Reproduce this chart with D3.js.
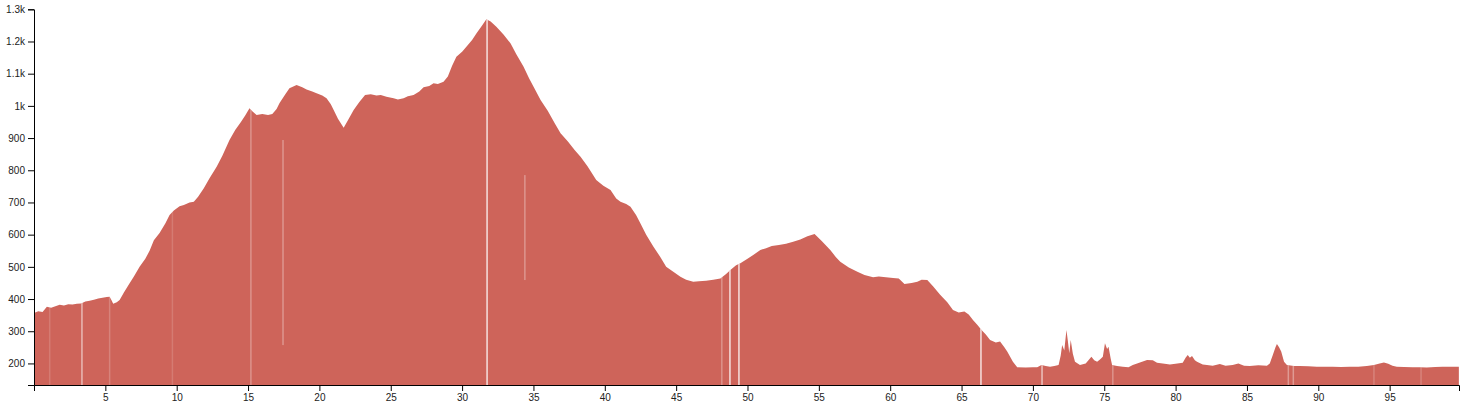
<!DOCTYPE html>
<html>
<head>
<meta charset="utf-8">
<script src="https://cdn.jsdelivr.net/npm/d3@7"></script>
<style>
  html, body { margin: 0; padding: 0; background: #fff; }
  svg { display: block; }
  .axis text { font-family: "Liberation Sans", Arial, sans-serif; font-size: 10px; fill: #222; }
</style>
</head>
<body>
<svg id="chart" width="1462" height="410"></svg>
<script>
// Distance along route (km)
const distanceKm = [
  0.0,0.3,0.6,0.9,1.2,1.5,1.8,2.1,2.4,2.7,3.0,3.3,3.6,3.9,4.2,4.5,4.8,5.1,5.3,5.45,5.55,5.8,6.0,6.3,6.7,7.0,7.4,7.8,8.1,8.4,8.8,9.2,9.5,9.8,10.2,10.5,10.9,11.2,11.5,11.9,12.3,12.8,13.2,13.7,14.1,14.5,14.8,15.1,15.3,15.6,16.0,16.4,16.7,17.0,17.2,17.6,17.9,18.4,18.8,19.1,19.5,19.8,20.2,20.5,20.8,21.0,21.3,21.7,22.0,22.4,22.8,23.2,23.6,24.0,24.3,24.7,25.2,25.5,25.9,26.2,26.6,27.0,27.3,27.7,28.0,28.3,28.7,29.0,29.3,29.6,30.0,30.3,30.7,31.0,31.4,31.7,32.0,32.4,32.9,33.4,33.8,34.3,34.7,35.0,35.5,36.0,36.5,36.9,37.4,37.9,38.3,38.8,39.4,39.9,40.4,40.8,41.1,41.5,41.8,42.2,42.5,42.9,43.4,43.9,44.3,44.8,45.3,45.7,46.2,46.6,47.1,47.6,48.1,48.5,48.8,49.2,49.5,50.0,50.4,50.9,51.3,51.7,52.2,52.7,53.2,53.7,54.2,54.7,55.2,55.8,56.2,56.5,57.1,57.7,58.2,58.8,59.2,59.7,60.2,60.6,61.0,61.5,61.9,62.2,62.6,63.0,63.5,64.0,64.4,64.8,65.2,65.5,65.8,66.1,66.4,66.7,67.0,67.4,67.7,68.0,68.2,68.6,68.9,69.5,70.0,70.3,70.6,70.9,71.2,71.5,71.8,71.95,72.05,72.2,72.35,72.45,72.55,72.65,72.8,72.95,73.3,73.7,74.1,74.3,74.5,74.7,74.9,75.05,75.2,75.3,75.45,75.55,75.9,76.3,76.7,77.0,77.5,78.0,78.4,78.7,79.1,79.6,80.0,80.5,80.7,80.85,81.0,81.15,81.35,81.5,81.9,82.2,82.6,83.1,83.5,84.0,84.4,84.8,85.2,85.8,86.4,86.6,86.8,87.0,87.1,87.25,87.4,87.6,87.8,88.3,88.7,89.3,89.9,90.5,91.0,91.6,92.2,92.8,93.4,93.9,94.3,94.6,94.9,95.2,95.5,96.0,96.6,97.1,97.6,98.2,98.7,99.2,99.85
];
// Elevation (m)
const elevationM = [
  357,362,360,376,373,378,382,380,384,383,385,386,392,395,398,402,404,406,407,395,385,390,397,420,449,470,500,525,550,583,605,635,661,675,688,692,700,702,718,744,775,811,845,894,925,950,970,993,983,972,975,972,975,990,1008,1035,1055,1065,1058,1051,1045,1039,1032,1024,1005,987,960,932,955,987,1012,1034,1036,1032,1034,1028,1024,1020,1024,1030,1034,1045,1058,1062,1070,1068,1075,1091,1125,1153,1168,1184,1205,1225,1250,1269,1262,1246,1222,1194,1160,1122,1085,1060,1018,985,945,915,890,862,842,812,770,752,739,712,702,695,687,660,635,600,563,530,500,485,469,460,454,455,457,460,464,478,490,505,511,525,537,552,558,565,568,572,578,585,595,602,580,552,530,516,498,485,475,468,470,468,465,464,447,450,454,460,459,440,413,390,366,358,361,352,335,320,304,290,273,265,268,250,237,205,188,187,188,188,195,192,190,192,195,225,257,240,304,270,232,273,230,205,195,200,221,210,205,212,221,263,245,252,215,195,192,190,188,195,203,211,210,202,200,197,199,202,218,226,218,223,210,205,197,195,193,198,193,195,200,193,192,194,193,200,225,250,260,250,237,205,195,192,192,191,190,190,190,189,190,190,192,195,200,203,199,193,190,189,188,188,187,189,190,190,190
];
const xTicks = [5,10,15,20,25,30,35,40,45,50,55,60,65,70,75,80,85,90,95];
const yTicks = [200,300,400,500,600,700,800,900,1000,1100,1200,1300];
// Data gaps (km) shown as light seams, with their visibility
const gapKm = [1.1,3.36,5.3,9.7,15.2,31.75,48.2,48.77,49.4,66.36,70.64,75.6,87.9,88.25,93.9,97.2];
const gapAlpha = [0.15,0.55,0.2,0.15,0.3,0.8,0.3,0.8,0.8,0.8,0.6,0.3,0.35,0.35,0.2,0.2];
// Partial seams: km, lower elevation, upper elevation
const partialGapKm = [17.45, 34.4];
const partialGapLow = [257, 459];
const partialGapHigh = [894, 785];

const W = 1462, H = 410;
const margin = {top: 9.3, right: 3, bottom: 25, left: 34};
const svg = d3.select("#chart");

const x = d3.scaleLinear().domain([0, 99.86]).range([margin.left, W - margin.right]);
const y = d3.scaleLinear().domain([133, 1300]).range([H - margin.bottom, margin.top]);

const data = distanceKm.map((d, i) => ({d, e: elevationM[i]}));
const fill = "rgb(206,100,90)";

const area = d3.area()
  .x(p => x(p.d))
  .y0(y(133))
  .y1(p => y(p.e));

svg.append("clipPath").attr("id", "areaClip")
  .append("path").attr("d", area(data));

svg.append("path").attr("d", area(data)).attr("fill", fill);

const seams = svg.append("g").attr("clip-path", "url(#areaClip)");
seams.selectAll("rect.gap").data(gapKm).join("rect")
  .attr("class", "gap")
  .attr("x", d => x(d) - 0.75)
  .attr("width", 1.5)
  .attr("y", margin.top)
  .attr("height", y(133) - margin.top)
  .attr("fill", "#fff")
  .attr("opacity", (d, i) => gapAlpha[i]);
seams.selectAll("rect.pgap").data(partialGapKm).join("rect")
  .attr("class", "pgap")
  .attr("x", d => x(d) - 0.6)
  .attr("width", 1.2)
  .attr("y", (d, i) => y(partialGapHigh[i]))
  .attr("height", (d, i) => y(partialGapLow[i]) - y(partialGapHigh[i]))
  .attr("fill", "#fff")
  .attr("opacity", 0.4);

const xAxis = d3.axisBottom(x).tickValues(xTicks).tickFormat(d3.format("d"));
svg.append("g").attr("class", "axis")
  .attr("transform", `translate(0,${H - margin.bottom})`)
  .call(xAxis);

const yAxis = d3.axisLeft(y).tickValues(yTicks).tickFormat(d3.format("~s"));
svg.append("g").attr("class", "axis")
  .attr("transform", `translate(${margin.left},0)`)
  .call(yAxis);
</script>
</body>
</html>
